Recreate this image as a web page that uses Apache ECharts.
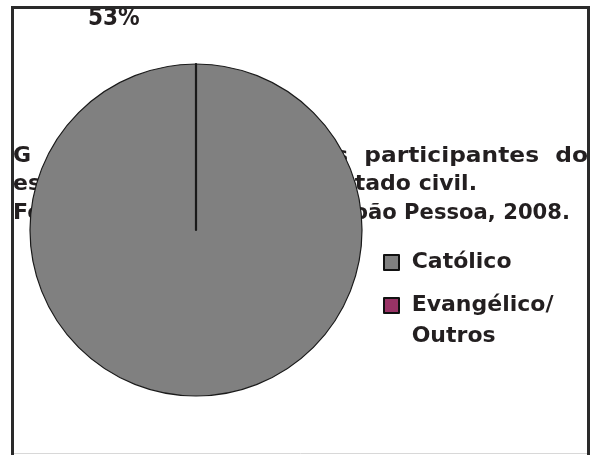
<!DOCTYPE html>
<html>
<head>
<meta charset="utf-8">
<script src="https://cdn.jsdelivr.net/npm/echarts@6/dist/echarts.min.js"></script>
<style>
html,body{margin:0;padding:0;background:#fff;}
#chart{width:603px;height:455px;}
</style>
</head>
<body>
<div id="chart"></div>
<script>
// Data
var categories = ['Católico', 'Evangélico/\nOutros'];
var values = [100, 0];
var colors = ['#808080', '#993366'];
var pctLabels = ['53%'];
var captionLeft = ['G', 'es', 'Fo'];
var captionRight = ['dos  participantes  do', 'estado civil.', 'direta, João Pessoa, 2008.'];

var FONT = "'DejaVu Sans', sans-serif";
var TXT = '#231f20';

var chart = echarts.init(document.getElementById('chart'), null, {renderer: 'canvas'});

var seriesData = categories.map(function (c, i) {
  return {
    name: c,
    value: values[i],
    itemStyle: {color: colors[i], borderColor: '#1a1a1a', borderWidth: i === 0 ? 1.2 : 2.2}
  };
});

var captionY = [156, 184, 213];
var captionRightX = [588, 477, 570];
var captionScale = [1.06, 1, 0.96];
var graphics = [];
captionLeft.forEach(function (t, i) {
  graphics.push({type: 'text', x: 13, y: captionY[i], z: 0,
    style: {text: t, fill: TXT, font: 'bold 22px ' + FONT, textAlign: 'left', textVerticalAlign: 'middle'}});
});
captionRight.forEach(function (t, i) {
  graphics.push({type: 'text', x: captionRightX[i], y: captionY[i], z: 0, scaleX: captionScale[i],
    style: {text: t, fill: TXT, font: 'bold 22px ' + FONT, textAlign: 'right', textVerticalAlign: 'middle'}});
});
graphics.push({type: 'text', x: 88, y: 19, z: 10,
  style: {text: pctLabels[0], fill: TXT, font: 'bold 24px ' + "'DejaVu Sans Condensed', sans-serif", textAlign: 'left', textVerticalAlign: 'middle'}});
// frame
graphics.push({type: 'rect', z: 20, shape: {x: 12.5, y: 7.5, width: 576, height: 460},
  style: {fill: null, stroke: '#2a2a2a', lineWidth: 3}});
graphics.push({type: 'line', z: 19, shape: {x1: 14, y1: 453.5, x2: 587, y2: 453.5},
  style: {stroke: '#d8d8d8', lineWidth: 1}});

var legendText = {fontFamily: FONT, fontWeight: 'bold', fontSize: 22, color: TXT, lineHeight: 31};
var option = {
  backgroundColor: '#fff',
  animation: false,
  legend: [
    {
      data: [categories[0]],
      orient: 'vertical', left: 383, top: 247, padding: 0,
      icon: 'rect', itemWidth: 15, itemHeight: 15, itemGap: 0,
      itemStyle: {borderColor: '#111', borderWidth: 2},
      formatter: function (n) { return ' ' + n; },
      textStyle: legendText
    },
    {
      data: [categories[1]],
      orient: 'vertical', left: 383, top: 259, padding: 0,
      icon: 'rect', itemWidth: 15, itemHeight: 15, itemGap: 0,
      itemStyle: {borderColor: '#111', borderWidth: 2},
      formatter: function (n) { return ' \n ' + n.replace('\n', '\n '); },
      textStyle: legendText
    }
  ],
  graphic: {elements: graphics},
  series: [{
    type: 'pie',
    z: 5,
    center: [196, 230],
    radius: [0, 166],
    startAngle: 90,
    clockwise: true,
    avoidLabelOverlap: false,
    label: {show: false},
    labelLine: {show: false},
    silent: true,
    data: seriesData
  }]
};
chart.setOption(option);
</script>
</body>
</html>
